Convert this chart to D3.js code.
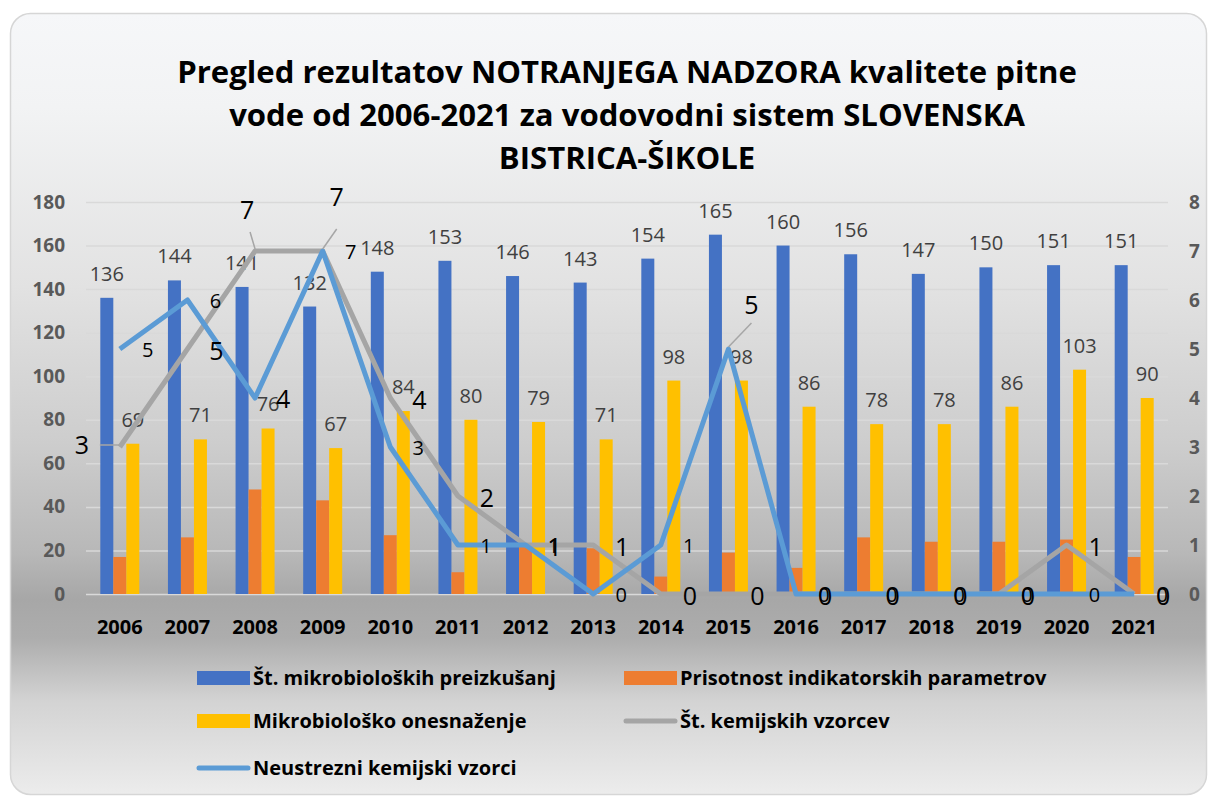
<!DOCTYPE html>
<html>
<head>
<meta charset="utf-8">
<script src="https://cdn.jsdelivr.net/npm/d3@7"></script>
<style>
  body { margin: 0; background: #ffffff; }
  svg { display: block; font-family: "Open Sans", sans-serif; }
</style>
</head>
<body>
<div class="graph"></div>
<script>
var width = 1209
var height = 796;

// data
var years = ["2006","2007","2008","2009","2010","2011","2012","2013","2014","2015","2016","2017","2018","2019","2020","2021"];
var mikroPreizkusanja = [136,144,141,132,148,153,146,143,154,165,160,156,147,150,151,151];
var indikatorji = [17,26,48,43,27,10,22,21,8,19,12,26,24,24,25,17];
var onesnazenje = [69,71,76,67,84,80,79,71,98,98,86,78,78,86,103,90];
var kemVzorci = [3,5,7,7,4,2,1,1,0,0,0,0,0,0,1,0];
var neustrezni = [5,6,4,7,3,1,1,0,1,5,0,0,0,0,0,0];
var leftTicks = [0,20,40,60,80,100,120,140,160,180];
var rightTicks = [0,1,2,3,4,5,6,7,8];
var titleLines = ["Pregled rezultatov NOTRANJEGA NADZORA kvalitete pitne",
                  "vode od 2006-2021 za vodovodni sistem SLOVENSKA",
                  "BISTRICA-ŠIKOLE"];

var barSeries = [
  {name: "Št. mikrobioloških preizkušanj", values: mikroPreizkusanja, color: "#4472c4", label: true},
  {name: "Prisotnost indikatorskih parametrov", values: indikatorji, color: "#ed7d31", label: false},
  {name: "Mikrobiološko onesnaženje", values: onesnazenje, color: "#ffc000", label: true}
];
var lineSeries = [
  {name: "Št. kemijskih vzorcev", values: kemVzorci, color: "#a5a5a5"},
  {name: "Neustrezni kemijski vzorci", values: neustrezni, color: "#5b9bd5"}
];

var svg = d3.select(".graph").append("svg")
  .attr("width", width)
  .attr("height", height);

// card background
var grad = svg.append("defs").append("linearGradient")
  .attr("id", "bg").attr("x1", 0).attr("y1", 0).attr("x2", 0).attr("y2", 1);
[[0, "#f6f7f9"], [0.12, "#f2f3f4"], [0.35, "#e2e2e2"], [0.55, "#cdcdcd"], [0.69, "#b8b8b8"],
 [0.75, "#a7a7a7"], [0.8, "#adadad"], [0.88, "#d3d3d3"], [1, "#ececec"]].forEach(function (s) {
  grad.append("stop").attr("offset", s[0]).attr("stop-color", s[1]);
});

svg.append("rect")
  .attr("x", 10.5).attr("y", 13.5)
  .attr("width", 1196).attr("height", 781)
  .attr("rx", 20).attr("ry", 20)
  .attr("fill", "url(#bg)")
  .attr("stroke", "#d6d6d6")
  .attr("stroke-width", 1.5);

var plotLeft = 86, plotRight = 1168, plotTop = 202, plotBottom = 594;

var x0 = d3.scaleBand().domain(years).range([plotLeft, plotRight]).padding(0);
var barW = 13;
var x1 = d3.scaleBand().domain(d3.range(barSeries.length))
  .range([(x0.bandwidth() - barW * 3) / 2, (x0.bandwidth() + barW * 3) / 2]);
var yLeft = d3.scaleLinear().domain([0, 180]).range([plotBottom, plotTop]);
var yRight = d3.scaleLinear().domain([0, 8]).range([plotBottom, plotTop]);

// title
var title = svg.append("g").attr("class", "title");
title.selectAll("text")
  .data(titleLines)
  .enter().append("text")
  .attr("x", (plotLeft + plotRight) / 2)
  .attr("y", function (d, i) { return 83 + i * 43 })
  .attr("text-anchor", "middle")
  .attr("font-weight", "bold")
  .attr("font-size", 30)
  .attr("fill", "#000")
  .text(function (d) { return d });
// fit first line to its width in the picture
var w0 = title.select("text").node().getComputedTextLength();
title.selectAll("text").attr("font-size", 30 * 900 / w0);

// gridlines
svg.append("g").attr("class", "grid")
  .call(d3.axisLeft(yLeft).tickValues(leftTicks).tickSize(-(plotRight - plotLeft)).tickFormat(""))
  .attr("transform", "translate(" + plotLeft + ",0)")
  .call(function (g) {
    g.select(".domain").remove();
    g.selectAll("line").attr("stroke", "#d9d9d9").attr("stroke-width", 1.5);
  });

// left axis
svg.append("g")
  .attr("transform", "translate(" + (plotLeft - 21) + ",0)")
  .call(d3.axisLeft(yLeft).tickValues(leftTicks).tickSize(0).tickPadding(0))
  .call(function (g) {
    g.select(".domain").remove();
    g.selectAll("text").attr("font-size", 19).attr("font-weight", "bold")
      .attr("fill", "#595959").attr("font-family", "Open Sans, sans-serif");
  });

// right axis
svg.append("g")
  .attr("transform", "translate(" + (plotRight + 21) + ",0)")
  .call(d3.axisRight(yRight).tickValues(rightTicks).tickSize(0).tickPadding(0))
  .call(function (g) {
    g.select(".domain").remove();
    g.selectAll("text").attr("font-size", 19).attr("font-weight", "bold")
      .attr("fill", "#595959").attr("font-family", "Open Sans, sans-serif");
  });

// year axis
svg.append("g")
  .attr("transform", "translate(0," + plotBottom + ")")
  .call(d3.axisBottom(x0).tickSize(0).tickPadding(26))
  .call(function (g) {
    g.select(".domain").remove();
    g.selectAll("text").attr("font-size", 20).attr("font-weight", "bold")
      .attr("fill", "#000").attr("font-family", "Open Sans, sans-serif");
  });

// bars
var groups = svg.append("g").attr("class", "bars")
  .selectAll("g")
  .data(barSeries)
  .enter().append("g")
  .attr("fill", function (s) { return s.color });

groups.selectAll("rect")
  .data(function (s, si) { return s.values.map(function (v, i) { return {v: v, i: i, si: si} }) })
  .enter().append("rect")
  .attr("x", function (d) { return x0(years[d.i]) + x1(d.si) })
  .attr("width", x1.bandwidth())
  .attr("y", function (d) { return yLeft(d.v) })
  .attr("height", function (d) { return plotBottom - yLeft(d.v) });

groups.filter(function (s) { return s.label })
  .selectAll("text")
  .data(function (s, si) { return s.values.map(function (v, i) { return {v: v, i: i, si: barSeries.indexOf(s)} }) })
  .enter().append("text")
  .attr("x", function (d) { return x0(years[d.i]) + x1(d.si) + x1.bandwidth() / 2 })
  .attr("y", function (d) { return yLeft(d.v) - 17 })
  .attr("text-anchor", "middle")
  .attr("font-size", 20)
  .attr("fill", "#404040")
  .text(function (d) { return d.v });

// lines
var cx = function (i) { return x0(years[i]) + x0.bandwidth() / 2 };
var line = d3.line()
  .x(function (d, i) { return cx(i) })
  .y(function (d) { return yRight(d) });

svg.append("g").attr("class", "lines")
  .selectAll("path")
  .data(lineSeries)
  .enter().append("path")
  .attr("d", function (s) { return line(s.values) })
  .attr("fill", "none")
  .attr("stroke", function (s) { return s.color })
  .attr("stroke-width", 5)
  .attr("stroke-linejoin", "round");

// line labels: offsets from the point, a few moved with leader lines
var labelStyle = [
  {size: 25, dx: 29, dy: 2, special: {
    0: {dx: -38, dy: -2, leader: [[18, 0], [30, 0]]},
    2: {dx: -8, dy: -41, leader: [[3, 22]]},
    3: {dx: 14, dy: -54, leader: [[0, 32]]}
  }},
  {size: 20, dx: 28, dy: 1, big: [2, 9], special: {
    9: {dx: 23, dy: -44, leader: [[0, 18]]}
  }}
];

var labels = svg.append("g").attr("class", "line-labels");
lineSeries.forEach(function (s, si) {
  var st = labelStyle[si];
  s.values.forEach(function (v, i) {
    var px = cx(i), py = yRight(v);
    var sp = st.special[i] || {dx: st.dx, dy: st.dy};
    var lx = px + sp.dx, ly = py + sp.dy;
    if (sp.leader) {
      var pts = sp.leader.map(function (p) { return [lx + p[0], ly + p[1]] });
      pts.push([px, py - 2]);
      labels.append("path")
        .attr("d", d3.line()(pts))
        .attr("fill", "none")
        .attr("stroke", "#a6a6a6")
        .attr("stroke-width", 1.5);
    }
    labels.append("text")
      .attr("x", lx)
      .attr("y", ly)
      .attr("dy", "0.36em")
      .attr("text-anchor", "middle")
      .attr("font-size", st.big && st.big.indexOf(i) > -1 ? 25 : st.size)
      .attr("fill", "#000")
      .text(v);
  });
});

// legend
var legendItems = [
  {s: barSeries[0], type: "bar", x: 197, y: 678},
  {s: barSeries[1], type: "bar", x: 624, y: 678},
  {s: barSeries[2], type: "bar", x: 197, y: 721},
  {s: lineSeries[0], type: "line", x: 624, y: 721},
  {s: lineSeries[1], type: "line", x: 197, y: 768}
];
var legend = svg.append("g").attr("class", "legend")
  .selectAll("g")
  .data(legendItems)
  .enter().append("g")
  .attr("transform", function (d) { return "translate(" + d.x + "," + d.y + ")" });

legend.filter(function (d) { return d.type === "bar" }).append("rect")
  .attr("x", 0).attr("y", -7).attr("width", 53).attr("height", 14)
  .attr("fill", function (d) { return d.s.color });
legend.filter(function (d) { return d.type === "line" }).append("line")
  .attr("x1", 2).attr("x2", 51).attr("y1", 0).attr("y2", 0)
  .attr("stroke", function (d) { return d.s.color })
  .attr("stroke-width", 5)
  .attr("stroke-linecap", "round");
legend.append("text")
  .attr("x", 56)
  .attr("dy", "0.36em")
  .attr("font-size", 20)
  .attr("font-weight", "bold")
  .attr("fill", "#000")
  .text(function (d) { return d.s.name });
</script>
</body>
</html>
